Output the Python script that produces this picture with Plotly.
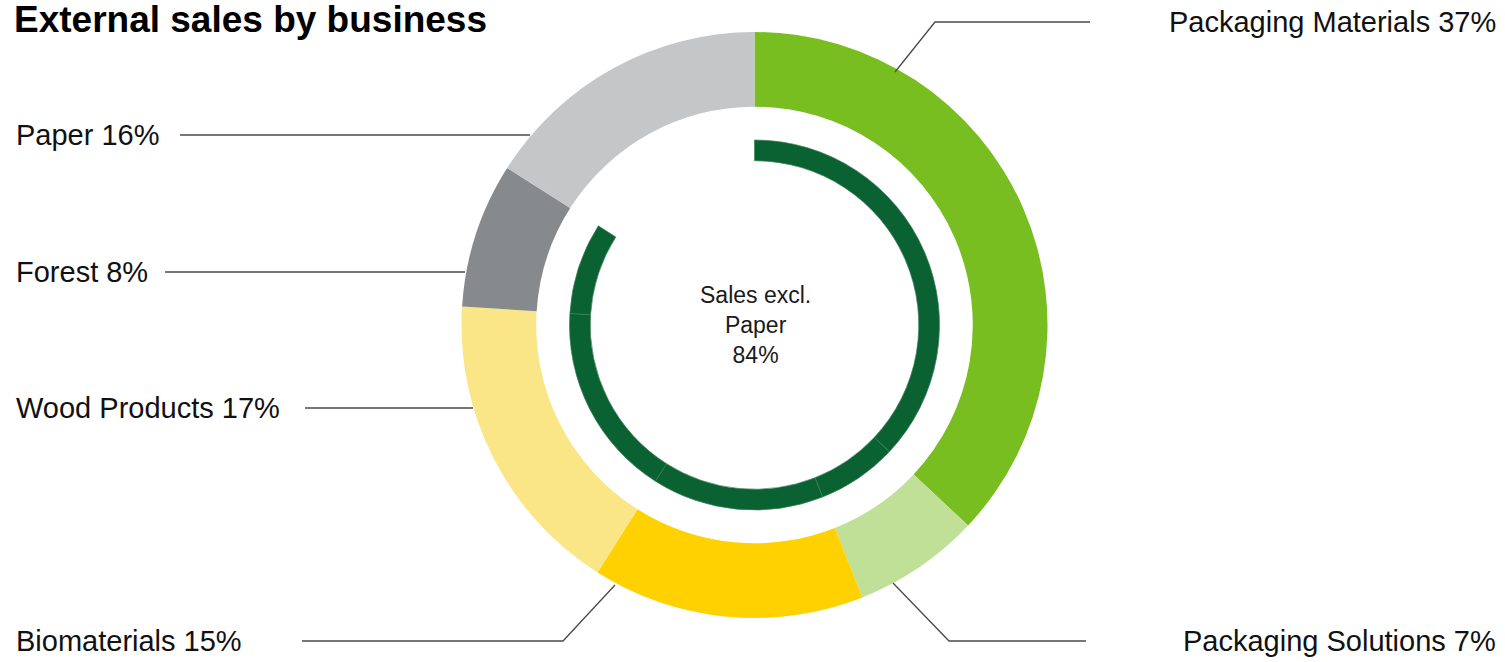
import plotly.graph_objects as go

# ---- data ----
businesses = ["Packaging Materials", "Packaging Solutions", "Biomaterials",
              "Wood Products", "Forest", "Paper"]
shares = [37, 7, 15, 17, 8, 16]
center_label = "Sales excl.<br>Paper<br>84%"
title_text = "External sales by business"

# ---- styles / layout ----
W, H = 1505, 662
colors = ["#78BE21", "#BFE096", "#FFD100", "#FAE687", "#878A8C", "#C5C6C8"]
dark_green = "#0A6132"
CX, CY = 754.5, 325.0          # ring centre in pixels (from top-left)
R_OUT, R_IN = 293.0, 185.0
FONT = "Liberation Sans, Arial, Helvetica, sans-serif"


def px(x):
    return x / W


def py(y):
    return 1 - y / H


fig = go.Figure()

fig.add_trace(go.Pie(
    labels=businesses, values=shares, sort=False, direction="clockwise",
    rotation=0, hole=0.745, textinfo="none", hoverinfo="label+percent",
    marker=dict(colors=colors, line=dict(width=0)),
    domain=dict(x=[px(CX - R_OUT), px(CX + R_OUT)],
                y=[py(CY + R_OUT), py(CY - R_OUT)]),
    showlegend=False,
))

# inner arc: sales excluding Paper (Paper slice left transparent)
inner_colors = [dark_green if b != "Paper" else "rgba(0,0,0,0)" for b in businesses]
inner_lw = [0.7 if b != "Paper" else 0 for b in businesses]
fig.add_trace(go.Pie(
    labels=businesses, values=shares, sort=False, direction="clockwise",
    rotation=0, hole=0.888, textinfo="none", hoverinfo="skip",
    marker=dict(colors=inner_colors, line=dict(width=inner_lw, color="#3C7F58")),
    domain=dict(x=[px(CX - R_IN), px(CX + R_IN)],
                y=[py(CY + R_IN), py(CY - R_IN)]),
    showlegend=False,
))

# leader lines & labels (pixel positions of the layout)
leaders = {
    "Packaging Materials": dict(pts=[(895, 72), (935, 22), (1090, 22)], lx=1498, ly=22, anchor="right"),
    "Packaging Solutions": dict(pts=[(893, 583), (949, 641), (1086, 641)], lx=1498, ly=641, anchor="right"),
    "Biomaterials": dict(pts=[(615, 585), (563, 641), (302, 641)], lx=14, ly=641, anchor="left"),
    "Wood Products": dict(pts=[(473, 408), (305, 408)], lx=14, ly=408, anchor="left"),
    "Forest": dict(pts=[(465, 272), (165, 272)], lx=14, ly=272, anchor="left"),
    "Paper": dict(pts=[(530, 135), (180, 135)], lx=14, ly=135, anchor="left"),
}

shapes = []
annotations = []
for name, val in zip(businesses, shares):
    d = leaders[name]
    path = " ".join(("M" if i == 0 else "L") + f" {px(x):.5f} {py(y):.5f}"
                    for i, (x, y) in enumerate(d["pts"]))
    shapes.append(dict(type="path", xref="paper", yref="paper", path=path,
                       line=dict(color="#4a4a4a", width=1.3)))
    annotations.append(dict(
        text=f"{name} {val}%", x=px(d["lx"]), y=py(d["ly"]), xref="paper", yref="paper",
        xanchor=d["anchor"], yanchor="middle", showarrow=False,
        font=dict(family=FONT, size=29, color="#111111")))

annotations.append(dict(
    text=center_label, x=px(CX + 1), y=py(CY), xref="paper", yref="paper",
    xanchor="center", yanchor="middle", showarrow=False, align="center",
    font=dict(family=FONT, size=23, color="#1a1a1a")))

annotations.append(dict(
    text=f"<b>{title_text}</b>", x=px(12), y=py(20), xref="paper", yref="paper",
    xanchor="left", yanchor="middle", showarrow=False,
    font=dict(family=FONT, size=37, color="#000000")))

fig.update_layout(
    width=W, height=H, margin=dict(l=0, r=0, t=0, b=0),
    paper_bgcolor="white", plot_bgcolor="white",
    shapes=shapes, annotations=annotations, showlegend=False,
)

fig.write_html("out.html")
